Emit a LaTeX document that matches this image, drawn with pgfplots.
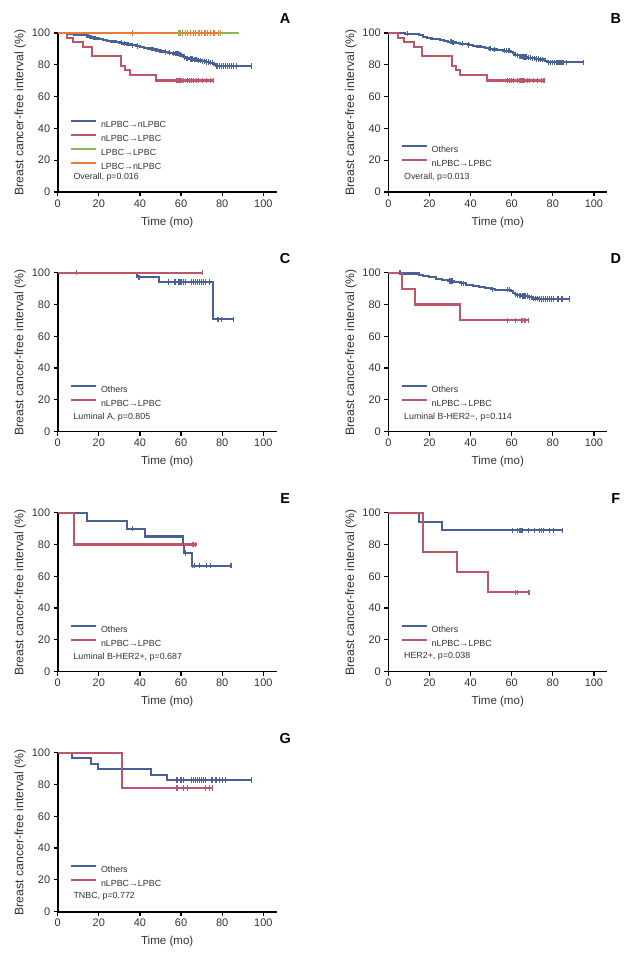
\documentclass[border=0pt]{standalone}
\usepackage{fontspec}
\setmainfont{Liberation Sans}
\usepackage{pgfplots}
\pgfplotsset{compat=1.18}

\definecolor{kmblue}{RGB}{72,97,150}
\definecolor{kmred}{RGB}{190,86,104}
\definecolor{kmgreen}{RGB}{140,182,90}
\definecolor{kmorange}{RGB}{238,122,52}
\definecolor{txt}{RGB}{50,50,50}

\pgfplotsset{
  panel/.style={
    scale only axis, width=219bp, height=159bp,
    xmin=0, xmax=106.5, ymin=0, ymax=100,
    axis x line*=bottom, axis y line*=left,
    axis line style={line width=1.6bp, -},
    xtick={0,20,...,100}, ytick={0,20,...,100},
    tick align=outside, major tick length=4bp,
    tick style={line width=1.2bp, black},
    tick label style={font=\fontsize{11}{12}\selectfont, text=txt},
    /pgf/number format/assume math mode=true,
    xlabel={Time (mo)}, ylabel={Breast cancer-free interval (\%)},
    xlabel style={font=\fontsize{11.6}{13}\selectfont, text=txt,
      at={(axis description cs:0.5,-0.189)}, anchor=center},
    ylabel style={font=\fontsize{12.3}{13}\selectfont, text=txt,
      at={(axis description cs:-0.171,0.5)}, anchor=center},
    clip=false,
    legend cell align=left,
    legend image code/.code={\draw[##1, line width=2.3bp] (0bp,3.3bp) -- (25bp,3.3bp);},
    legend style={draw=none, fill=none, inner sep=0pt,
      font=\fontsize{8.9}{10}\selectfont, text=txt,
      row sep=6.3bp, column sep=3.5bp,
      nodes={inner sep=0pt, text height=6.5bp, text depth=0pt},
      anchor=north west, at={(axis cs:6,29.8)}},
  },
  km/.style={const plot, mark=none, line width=2.1bp},
  cens/.style={only marks, mark=|, mark size=2.6bp, mark options={line width=1.2bp}, forget plot},
}
\newcommand\note[1]{\node[anchor=west, font=\fontsize{8.9}{10}\selectfont, text=txt] at (axis cs:6,9.4) {#1};}
\newcommand\letter[1]{\node[font=\bfseries\fontsize{14.5}{15}\selectfont] at (axis cs:110.6,109.2) {#1};}

\begin{document}
\begin{tikzpicture}
\path[use as bounding box] (0,0) rectangle (637bp,957bp);

% ---- A
\begin{axis}[panel, at={(57.7bp,765bp)}, anchor=south west, legend style={at={(axis cs:6,45.4)}}]
\addplot[km, kmblue, line width=2.5bp] coordinates {(0,100)(5,99.6)(8,99.2)(13,98.6)(14.5,97.8)(16,97.2)(18,96.6)(20,96.1)(22,95.6)(24,95.1)(26,94.7)(28,94.2)(30,93.8)(32,93.4)(34,92.9)(36,92.3)(38,91.8)(40,91.2)(42,90.7)(44,90.1)(46,89.6)(48,89.0)(50,88.5)(52,88.0)(54,87.5)(56,87.2)(59,86.6)(60,85.8)(61,84.9)(62,84.2)(64,83.6)(66,83.2)(68,82.7)(70,82.3)(72,81.8)(74,81.2)(76,80.2)(77,79.2)(94.4,79.2)};
\addplot[cens, kmblue] coordinates {(31,93.8)(32.5,93.4)(36.5,92.3)(39,91.8)(52.5,88.0)(54.5,87.5)(56.5,87.2)(57.5,87.2)(58.5,87.2)(59.5,86.6)(61.5,84.9)(62.5,84.2)(63.3,84.2)(64.5,83.6)(65.3,83.6)(66.5,83.2)(67.3,83.2)(68.5,82.7)(69.3,82.7)(70.5,82.3)(71.3,82.3)(72.5,81.8)(73.3,81.8)(74.5,81.2)(75.3,81.2)(77.5,79.2)(78.5,79.2)(79.5,79.2)(80.5,79.2)(81.5,79.2)(82.5,79.2)(83.5,79.2)(84.5,79.2)(85.5,79.2)(87,79.2)(94.4,79.2)};
\addplot[km, kmred] coordinates {(0,100)(4.5,97.1)(7.5,94.1)(12.5,91.2)(16.5,85.3)(30.8,79.4)(32.8,76.5)(35,73.5)(47.8,70.1)(75.7,70.1)};
\addplot[cens, kmred] coordinates {(58,70.1)(59,70.1)(60,70.1)(61,70.1)(63,70.1)(64,70.1)(65,70.1)(66,70.1)(67.5,70.1)(68.5,70.1)(70.5,70.1)(72.5,70.1)(74.5,70.1)(75.7,70.1)};
\addplot[km, kmgreen] coordinates {(0,100)(88.3,100)};
\addplot[cens, kmgreen] coordinates {(58.7,100)(59.7,100)(62,100)(69,100)(72,100)(79.3,100)};
\addplot[km, kmorange] coordinates {(0,100)(78.1,100)};
\addplot[cens, kmorange] coordinates {(36.3,100)(59.2,100)(60.5,100)(63,100)(64.5,100)(66,100)(67,100)(68.5,100)(70,100)(71.5,100)(73,100)(74.5,100)(76,100)(78.1,100)};
\legend{nLPBC→nLPBC, nLPBC→LPBC, LPBC→LPBC, LPBC→nLPBC}
\note{Overall, p=0.016}
\letter{A}
\end{axis}

% ---- B
\begin{axis}[panel, at={(388.3bp,765bp)}, anchor=south west]
\addplot[km, kmblue] coordinates {(0,100)(8,99.6)(13.5,99.3)(15,98.5)(17,97.7)(19,97.1)(21,96.5)(23,96.0)(25,95.5)(27,95.0)(29,94.5)(31,94.0)(33,93.6)(35,93.2)(37,92.8)(39,92.4)(41,92.0)(43,91.5)(45,91.0)(47,90.5)(49,90.0)(51,89.6)(53,89.2)(56,88.9)(59.5,88.3)(60.5,87.3)(61.5,86.4)(62.5,85.9)(64,85.4)(66,84.9)(68,84.5)(70,84.1)(72,83.7)(74,83.3)(76,82.5)(77,81.6)(94.8,81.6)};
\addplot[cens, kmblue] coordinates {(9.2,99.6)(30.5,94.5)(31.5,94.0)(36,93.2)(39,92.4)(49.5,90.0)(51.5,89.6)(56.5,88.9)(57.5,88.9)(58.5,88.9)(59,88.9)(61,87.3)(62,86.4)(63,85.9)(64,85.4)(65,85.4)(66,84.9)(67,84.9)(68,84.5)(69,84.5)(70,84.1)(71,84.1)(72,83.7)(73,83.7)(74,83.3)(75,83.3)(78,81.6)(79,81.6)(80,81.6)(81,81.6)(82,81.6)(83,81.6)(84,81.6)(85,81.6)(86.5,81.6)(94.8,81.6)};
\addplot[km, kmred] coordinates {(0,100)(4.5,97.1)(7.5,94.1)(12.5,91.2)(16.5,85.3)(30.8,79.4)(32.8,76.5)(35,73.5)(47.8,70.1)(75.7,70.1)};
\addplot[cens, kmred] coordinates {(58,70.1)(59,70.1)(60,70.1)(61,70.1)(63,70.1)(64,70.1)(65,70.1)(66,70.1)(67.5,70.1)(68.5,70.1)(70.5,70.1)(72.5,70.1)(74.5,70.1)(75.7,70.1)};
\legend{Others, nLPBC→LPBC}
\note{Overall, p=0.013}
\letter{B}
\end{axis}

% ---- C
\begin{axis}[panel, at={(57.7bp,525.3bp)}, anchor=south west]
\addplot[km, kmblue] coordinates {(0,100)(38.5,97.1)(49.3,94.1)(75.7,70.6)(85.4,70.6)};
\addplot[cens, kmblue] coordinates {(39.5,97.1)(54,94.1)(57,94.1)(59,94.1)(60,94.1)(61,94.1)(62,94.1)(65,94.1)(66,94.1)(67,94.1)(68,94.1)(69,94.1)(70,94.1)(71,94.1)(72,94.1)(74,94.1)(78,70.6)(79.5,70.6)(85.4,70.6)};
\addplot[km, kmred] coordinates {(0,100)(70.3,100)};
\addplot[cens, kmred] coordinates {(9.1,100)(70.3,100)};
\legend{Others, nLPBC→LPBC}
\note{Luminal A, p=0.805}
\letter{C}
\end{axis}

% ---- D
\begin{axis}[panel, at={(388.3bp,525.3bp)}, anchor=south west]
\addplot[km, kmblue] coordinates {(0,100)(6,99.5)(15,98.8)(17,97.9)(20,97.1)(23,96.3)(26,95.6)(29,94.8)(32,94.1)(35,93.4)(38,92.5)(41,91.8)(44,91.1)(47,90.4)(50,89.6)(52,89.2)(59.5,88.6)(60.5,87.5)(61.5,86.4)(62.5,85.8)(65,85.3)(68,84.5)(70,83.8)(73,83.5)(88.3,83.5)};
\addplot[cens, kmblue] coordinates {(5.7,100)(30,94.8)(31,94.8)(35.5,93.4)(36.5,93.4)(50.5,89.6)(58,89.2)(59,89.2)(62,86.4)(63,85.8)(64,85.8)(65.5,85.3)(66.5,85.3)(67.5,85.3)(68.5,84.5)(69.5,84.5)(70.5,83.8)(71.5,83.8)(72.5,83.8)(73.5,83.5)(74.5,83.5)(75.5,83.5)(76.5,83.5)(77.5,83.5)(78.5,83.5)(79.5,83.5)(80.5,83.5)(82.5,83.5)(84.5,83.5)(88.3,83.5)};
\addplot[km, kmred] coordinates {(0,100)(6.5,90)(13,80)(34.9,70)(68.4,70)};
\addplot[cens, kmred] coordinates {(58,70)(62,70)(65,70)(66.5,70)(68,70)};
\legend{Others, nLPBC→LPBC}
\note{Luminal B-HER2−, p=0.114}
\letter{D}
\end{axis}

% ---- E
\begin{axis}[panel, at={(57.7bp,285.3bp)}, anchor=south west]
\addplot[km, kmblue] coordinates {(0,100)(14.1,95)(33.6,90)(42.4,85)(60.8,80)(61.6,74.7)(65.2,66.7)(84.3,66.7)};
\addplot[cens, kmblue] coordinates {(36.5,90)(61.2,80)(62,74.7)(65.6,66.7)(66.5,66.7)(69,66.7)(72.5,66.7)(74.5,66.7)(84.3,66.7)};
\addplot[km, kmred] coordinates {(0,100)(7.9,80)(67.6,80)};
\addplot[cens, kmred] coordinates {(65.8,80)(67,80)};
\legend{Others, nLPBC→LPBC}
\note{Luminal B-HER2+, p=0.687}
\letter{E}
\end{axis}

% ---- F
\begin{axis}[panel, at={(388.3bp,285.3bp)}, anchor=south west]
\addplot[km, kmblue] coordinates {(0,100)(14.9,94.4)(26.3,88.9)(84.6,88.9)};
\addplot[cens, kmblue] coordinates {(60.5,88.9)(63,88.9)(64,88.9)(65,88.9)(68,88.9)(71,88.9)(73.5,88.9)(74.5,88.9)(75.5,88.9)(78.5,88.9)(80.5,88.9)(84.6,88.9)};
\addplot[km, kmred] coordinates {(0,100)(17,75)(33.2,62.5)(48.3,50)(68.4,50)};
\addplot[cens, kmred] coordinates {(62,50)(63,50)(68.4,50)};
\legend{Others, nLPBC→LPBC}
\note{HER2+, p=0.038}
\letter{F}
\end{axis}

% ---- G
\begin{axis}[panel, at={(57.7bp,45.3bp)}, anchor=south west]
\addplot[km, kmblue] coordinates {(0,100)(6.8,96.6)(16,93.1)(19.8,89.7)(45.2,86.2)(53,82.8)(94.4,82.8)};
\addplot[cens, kmblue] coordinates {(58,82.8)(60,82.8)(61,82.8)(65,82.8)(66,82.8)(67,82.8)(68,82.8)(69,82.8)(70,82.8)(71,82.8)(72,82.8)(75,82.8)(77,82.8)(78.5,82.8)(80,82.8)(81.5,82.8)(94.4,82.8)};
\addplot[km, kmred] coordinates {(0,100)(31.1,77.8)(75.4,77.8)};
\addplot[cens, kmred] coordinates {(58,77.8)(61,77.8)(63,77.8)(72,77.8)(74,77.8)(75.4,77.8)};
\legend{Others, nLPBC→LPBC}
\note{TNBC, p=0.772}
\letter{G}
\end{axis}
\end{tikzpicture}
\end{document}
